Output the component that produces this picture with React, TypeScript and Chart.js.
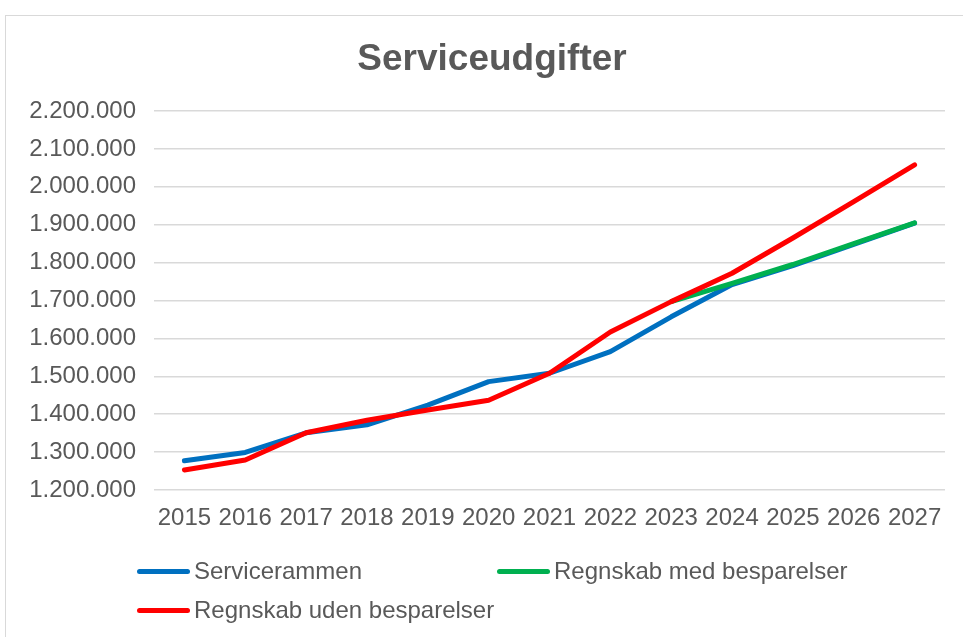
import React, { useEffect, useRef } from "react";
import { Chart, registerables } from "chart.js";

Chart.register(...registerables);

const title = "Serviceudgifter";
const years = ["2015", "2016", "2017", "2018", "2019", "2020", "2021", "2022", "2023", "2024", "2025", "2026", "2027"];
const servicerammen = [1277000, 1299000, 1351000, 1372000, 1424000, 1486000, 1508000, 1565000, 1657000, 1742000, 1792000, 1848000, 1904000];
const medBesparelser = [null, null, null, null, null, null, null, null, 1697000, 1745000, 1795000, 1850000, 1905000];
const udenBesparelser = [1253000, 1279000, 1351000, 1384000, 1411000, 1437000, 1508000, 1617000, 1697000, 1772000, 1865000, 1961000, 2058000];
const yMin = 1200000;
const yMax = 2200000;
const yStep = 100000;

const seriesLabels = ["Servicerammen", "Regnskab med besparelser", "Regnskab uden besparelser"];
const seriesColors = ["#0070C0", "#00B050", "#FF0000"];
const drawOrder = [2, 1, 0];

const fmt = (v: number) => String(v).replace(/\B(?=(\d{3})+(?!\d))/g, ".");

const FONT = "'Liberation Sans', Arial, sans-serif";
const TEXT = "#595959";

export default function App() {
  const ref = useRef<HTMLCanvasElement | null>(null);

  useEffect(() => {
    if (!ref.current) return;
    const chart = new Chart(ref.current, {
      type: "line",
      data: {
        labels: years,
        datasets: [
          { label: seriesLabels[0], data: servicerammen, borderColor: seriesColors[0], backgroundColor: seriesColors[0], order: drawOrder[0] },
          { label: seriesLabels[1], data: medBesparelser as any, borderColor: seriesColors[1], backgroundColor: seriesColors[1], order: drawOrder[1] },
          { label: seriesLabels[2], data: udenBesparelser, borderColor: seriesColors[2], backgroundColor: seriesColors[2], order: drawOrder[2] },
        ].map((d) => ({
          ...d,
          borderWidth: 5,
          pointRadius: 0,
          pointHoverRadius: 0,
          tension: 0,
          borderCapStyle: "round" as const,
          borderJoinStyle: "round" as const,
          spanGaps: false,
        })),
      },
      options: {
        animation: false,
        responsive: false,
        maintainAspectRatio: false,
        layout: { padding: { left: 20, right: 18, top: 111, bottom: 107 } },
        plugins: {
          legend: { display: false },
          tooltip: { enabled: false },
          title: { display: false },
        },
        scales: {
          x: {
            offset: true,
            grid: { display: false, drawTicks: false },
            border: { display: false },
            ticks: { color: TEXT, font: { family: FONT, size: 24 }, padding: 14, maxRotation: 0, autoSkip: false },
            afterFit: (s: any) => { s.height = 40; },
          },
          y: {
            min: yMin,
            max: yMax,
            grid: { color: "#d9d9d9", lineWidth: 1.5, drawTicks: false },
            border: { display: false },
            ticks: {
              stepSize: yStep,
              color: TEXT,
              font: { family: FONT, size: 24 },
              padding: 18,
              callback: (v: any) => fmt(Number(v)),
            },
            afterFit: (s: any) => { s.width = 134; },
          },
        },
      },
    });
    return () => chart.destroy();
  }, []);

  const legendItem = (i: number, left: number, top: number) => (
    <div key={i} style={{ position: "absolute", left, top, display: "flex", alignItems: "center", height: 30 }}>
      <div style={{ width: 53, height: 5, borderRadius: 3, background: seriesColors[i], marginRight: 4 }} />
      <span style={{ fontFamily: FONT, fontSize: 24, color: TEXT, whiteSpace: "nowrap" }}>{seriesLabels[i]}</span>
    </div>
  );

  return (
    <div style={{ position: "absolute", left: 0, top: 0, width: 963, height: 637, overflow: "hidden", background: "#fff" }}>
      <div style={{ position: "absolute", left: 5, top: 15, width: 970, height: 640, border: "1px solid #d9d9d9", boxSizing: "border-box" }} />
      <canvas ref={ref} width={963} height={637} style={{ position: "absolute", left: 0, top: 0, width: 963, height: 637 }} />
      <div style={{ position: "absolute", left: 0, top: 36, width: 984, height: 44, lineHeight: "44px", textAlign: "center", fontFamily: FONT, fontWeight: "bold", fontSize: 37, color: TEXT }}>{title}</div>
      {legendItem(0, 137, 556)}
      {legendItem(1, 497, 556)}
      {legendItem(2, 137, 595)}
    </div>
  );
}
